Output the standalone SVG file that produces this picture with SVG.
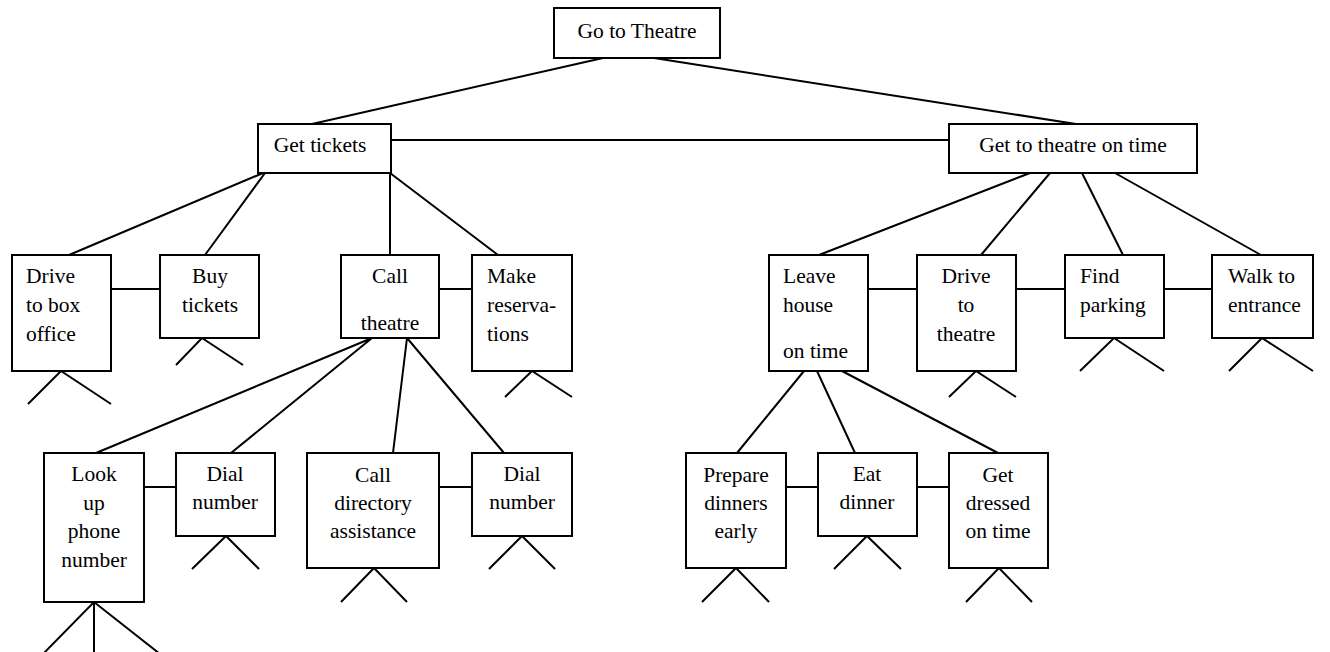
<svg xmlns="http://www.w3.org/2000/svg" width="1330" height="652" viewBox="0 0 1330 652">
<style>
.n{fill:#fff;stroke:#000;stroke-width:2}
line,path{stroke:#000;stroke-width:2;fill:none}
text{font-family:"Liberation Serif","Times New Roman",serif;font-size:21.5px;fill:#000}
.c{text-anchor:middle}
</style>
<rect width="1330" height="652" fill="#fff"/>
<g id="connectors">
<path d="M603,58 L312,124 M654,58 L1076,124"/>
<path d="M391,140 L949,140"/>
<path d="M263,173 L69,255 M265,173 L205,255 M390,173 L390,255 M390,173 L498,255"/>
<path d="M111,289 L160,289 M439,289 L472,289"/>
<path d="M372,338 L96,453 M372,338 L231,453 M407,338 L393,453 M407,338 L504,453"/>
<path d="M144,487 L176,487 M439,487 L472,487"/>
<path d="M1030,173 L819,255 M1050,173 L981,255 M1082,173 L1123,255 M1115,173 L1261,255"/>
<path d="M868,289 L917,289 M1016,289 L1065,289 M1164,289 L1212,289"/>
<path d="M804,371 L737,453 M817,371 L855,453 M842,371 L998,453"/>
<path d="M786,487 L818,487 M917,487 L949,487"/>
<path d="M28,404 L61,371 L111,404"/>
<path d="M176,365 L202,338 L243,365"/>
<path d="M505,397 L532,371 L572,397"/>
<path d="M43,654 L94,602 L160,654 M94,602 L94,654"/>
<path d="M192,569 L226,536 L259,569"/>
<path d="M341,602 L374,568 L407,602"/>
<path d="M489,569 L522,536 L555,569"/>
<path d="M949,397 L976,371 L1016,397"/>
<path d="M1080,371 L1114,338 L1164,371"/>
<path d="M1229,371 L1262,338 L1313,371"/>
<path d="M702,602 L736,568 L769,602"/>
<path d="M834,569 L867,536 L901,569"/>
<path d="M966,602 L999,568 L1032,602"/>
</g>
<g id="go-to-theatre"><rect class="n" x="554" y="8" width="166" height="50"/><text class="c" x="637" y="38">Go to Theatre</text></g>
<g id="get-tickets"><rect class="n" x="258" y="124" width="133" height="49"/><text class="c" x="320" y="152">Get tickets</text></g>
<g id="get-to-theatre-on-time"><rect class="n" x="949" y="124" width="248" height="49"/><text class="c" x="1073" y="152">Get to theatre on time</text></g>
<g id="drive-to-box-office"><rect class="n" x="12" y="255" width="99" height="116"/><text x="26" y="283">Drive</text><text x="26" y="312">to box</text><text x="26" y="341">office</text></g>
<g id="buy-tickets"><rect class="n" x="160" y="255" width="99" height="83"/><text class="c" x="210" y="283">Buy</text><text class="c" x="210" y="312">tickets</text></g>
<g id="call-theatre"><rect class="n" x="341" y="255" width="98" height="83"/><text class="c" x="390" y="283">Call</text><text class="c" x="390" y="330">theatre</text></g>
<g id="make-reservations"><rect class="n" x="472" y="255" width="100" height="116"/><text x="487" y="283">Make</text><text x="487" y="312">reserva-</text><text x="487" y="341">tions</text></g>
<g id="look-up-phone-number"><rect class="n" x="44" y="453" width="100" height="149"/><text class="c" x="94" y="481">Look</text><text class="c" x="94" y="510">up</text><text class="c" x="94" y="538">phone</text><text class="c" x="94" y="567">number</text></g>
<g id="dial-number-1"><rect class="n" x="176" y="453" width="99" height="83"/><text class="c" x="225" y="481">Dial</text><text class="c" x="225" y="509">number</text></g>
<g id="call-directory-assistance"><rect class="n" x="307" y="453" width="132" height="115"/><text class="c" x="373" y="482">Call</text><text class="c" x="373" y="510">directory</text><text class="c" x="373" y="538">assistance</text></g>
<g id="dial-number-2"><rect class="n" x="472" y="453" width="100" height="83"/><text class="c" x="522" y="481">Dial</text><text class="c" x="522" y="509">number</text></g>
<g id="leave-house-on-time"><rect class="n" x="769" y="255" width="99" height="116"/><text x="783" y="283">Leave</text><text x="783" y="312">house</text><text x="783" y="358">on time</text></g>
<g id="drive-to-theatre"><rect class="n" x="917" y="255" width="99" height="116"/><text class="c" x="966" y="283">Drive</text><text class="c" x="966" y="312">to</text><text class="c" x="966" y="341">theatre</text></g>
<g id="find-parking"><rect class="n" x="1065" y="255" width="99" height="83"/><text x="1080" y="283">Find</text><text x="1080" y="312">parking</text></g>
<g id="walk-to-entrance"><rect class="n" x="1212" y="255" width="101" height="83"/><text x="1228" y="283">Walk to</text><text x="1228" y="312">entrance</text></g>
<g id="prepare-dinners-early"><rect class="n" x="686" y="453" width="100" height="115"/><text class="c" x="736" y="482">Prepare</text><text class="c" x="736" y="510">dinners</text><text class="c" x="736" y="538">early</text></g>
<g id="eat-dinner"><rect class="n" x="818" y="453" width="99" height="83"/><text class="c" x="867" y="481">Eat</text><text class="c" x="867" y="509">dinner</text></g>
<g id="get-dressed-on-time"><rect class="n" x="949" y="453" width="99" height="115"/><text class="c" x="998" y="482">Get</text><text class="c" x="998" y="510">dressed</text><text class="c" x="998" y="538">on time</text></g>
</svg>
